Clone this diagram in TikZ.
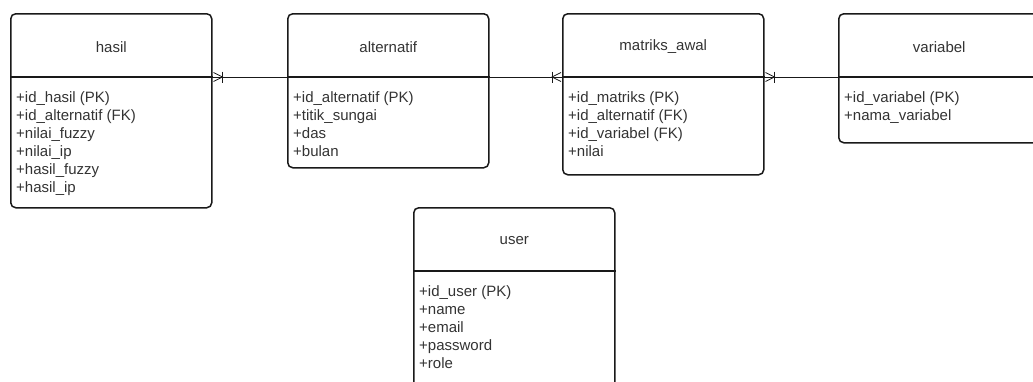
\documentclass[tikz,border=0pt]{standalone}
\usepackage{fontspec}
\setmainfont{Liberation Sans}
\usetikzlibrary{calc}

\definecolor{txt}{HTML}{333333}

\tikzset{
  entity/.style={draw=black!90,line width=1.5pt,rounded corners=5pt,
    minimum width=201pt,anchor=north west,inner sep=0pt},
  title/.style={font=\fontsize{15}{18}\selectfont,text=txt},
  attrs/.style={font=\fontsize{15}{18}\selectfont,text=txt,align=left,
    anchor=north west,inner sep=0pt},
  sep/.style={draw=black!90,line width=1.5pt},
  rel/.style={draw=black!90,line width=0.8pt}
}

% name, x, y, height, title, attributes
\newcommand\entity[6]{
  \node[entity,minimum height=#4pt] (#1) at (#2,#3) {};
  \coordinate (#1-w) at ($(#1.north west)+(0,64)$);
  \coordinate (#1-e) at ($(#1.north east)+(0,64)$);
  \draw[sep] (#1-w) -- (#1-e);
  \node[title] (#1-title) at ($(#1.north)+(0,34)$) {#5};
  \node[attrs] (#1-attrs) at ($(#1-w)+(6,14)$) {#6};
}

% one-or-many end at a border, #2 = 1 (right) or -1 (left)
\newcommand\manyone[2]{
  \draw[rel] ($(#1)+(#2*1,-4.5)$) -- ($(#1)+(#2*10,0)$) -- ($(#1)+(#2*1,4.5)$);
  \draw[rel] ($(#1)+(#2*10,-5.5)$) -- ($(#1)+(#2*10,5.5)$);
}

\begin{document}
\begin{tikzpicture}[x=1pt,y=-1pt]

\useasboundingbox (0,0) rectangle (1033,381);
\clip (0,0) rectangle (1033,381);

\entity{hasil}{10}{13}{194}{hasil}
  {+id\_hasil (PK)\\+id\_alternatif (FK)\\+nilai\_fuzzy\\+nilai\_ip\\+hasil\_fuzzy\\+hasil\_ip}
\entity{alternatif}{287}{13}{154}{alternatif}
  {+id\_alternatif (PK)\\+titik\_sungai\\+das\\+bulan}
\entity{matriks}{562}{13}{161}{matriks\_awal}
  {+id\_matriks (PK)\\+id\_alternatif (FK)\\+id\_variabel (FK)\\+nilai}
\entity{variabel}{838}{13}{129}{variabel}
  {+id\_variabel (PK)\\+nama\_variabel}
\entity{user}{413}{207}{200}{user}
  {+id\_user (PK)\\+name\\+email\\+password\\+role}

% relations
\draw[rel] (hasil-e) -- (alternatif-w);
\manyone{hasil-e}{1}
\draw[rel] (alternatif-e) -- (matriks-w);
\manyone{matriks-w}{-1}
\draw[rel] (matriks-e) -- (variabel-w);
\manyone{matriks-e}{1}

\end{tikzpicture}
\end{document}
